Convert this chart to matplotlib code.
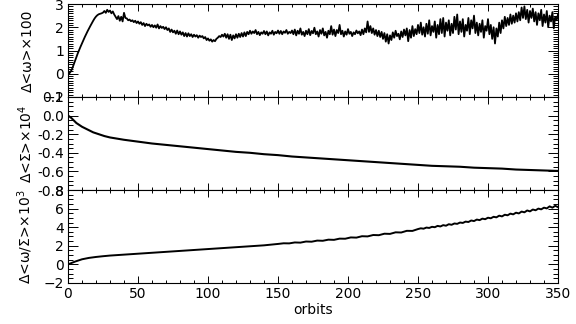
import numpy as np
import matplotlib
matplotlib.use("Agg")
import matplotlib.pyplot as plt
from matplotlib.ticker import MultipleLocator, FormatStrFormatter

# ---- data ----
top_vals = [
    0.00, 0.02, 0.10, 0.22, 0.38, 0.55, 0.72, 0.88, 1.03, 1.17,
    1.31, 1.45, 1.58, 1.71, 1.83, 1.95, 2.06, 2.17, 2.28, 2.38,
    2.46, 2.52, 2.56, 2.58, 2.60, 2.63, 2.70, 2.62, 2.75, 2.66,
    2.72, 2.60, 2.68, 2.55, 2.45, 2.35, 2.48, 2.28, 2.45, 2.25,
    2.62, 2.40, 2.38, 2.30, 2.33, 2.26, 2.30, 2.22, 2.28, 2.18,
    2.25, 2.15, 2.22, 2.10, 2.18, 2.05, 2.15, 2.08, 2.12, 2.02,
    2.10, 2.00, 2.08, 1.98, 2.12, 1.95, 2.05, 1.97, 2.02, 1.92,
    2.00, 1.88, 1.95, 1.80, 1.90, 1.78, 1.85, 1.72, 1.86, 1.70,
    1.82, 1.68, 1.78, 1.62, 1.75, 1.60, 1.74, 1.62, 1.70, 1.58,
    1.68, 1.60, 1.66, 1.55, 1.64, 1.58, 1.62, 1.52, 1.58, 1.45,
    1.52, 1.42, 1.48, 1.38, 1.45, 1.40, 1.50, 1.55, 1.62, 1.58,
    1.68, 1.60, 1.72, 1.55, 1.70, 1.50, 1.68, 1.45, 1.65, 1.52,
    1.70, 1.55, 1.72, 1.58, 1.75, 1.60, 1.78, 1.62, 1.80, 1.70,
    1.85, 1.72, 1.82, 1.75, 1.88, 1.70, 1.80, 1.66, 1.78, 1.72,
    1.84, 1.70, 1.82, 1.65, 1.78, 1.72, 1.85, 1.68, 1.80, 1.74,
    1.86, 1.72, 1.84, 1.70, 1.82, 1.76, 1.88, 1.72, 1.80, 1.75,
    1.86, 1.70, 1.90, 1.65, 1.85, 1.72, 1.95, 1.68, 1.80, 1.62,
    1.85, 1.70, 1.92, 1.66, 1.84, 1.74, 1.98, 1.70, 1.82, 1.60,
    1.88, 1.72, 1.95, 1.65, 1.80, 1.55, 1.85, 1.70, 2.05, 1.68,
    1.90, 1.62, 1.88, 1.75, 2.10, 1.70, 1.85, 1.60, 1.82, 1.68,
    1.92, 1.72, 1.80, 1.62, 1.78, 1.70, 1.86, 1.74, 1.82, 1.66,
    1.90, 1.70, 1.95, 1.78, 2.25, 1.80, 2.05, 1.75, 1.95, 1.68,
    1.88, 1.62, 1.85, 1.58, 1.80, 1.50, 1.75, 1.38, 1.70, 1.30,
    1.65, 1.45, 1.78, 1.55, 1.85, 1.62, 1.72, 1.48, 1.82, 1.58,
    1.90, 1.65, 1.95, 1.40, 1.88, 1.55, 2.05, 1.62, 1.92, 1.70,
    2.10, 1.75, 2.20, 1.68, 2.00, 1.60, 2.15, 1.72, 2.30, 1.65,
    2.05, 1.80, 2.25, 1.55, 2.10, 1.70, 2.35, 1.75, 2.40, 1.60,
    2.20, 1.85, 2.30, 1.65, 2.15, 1.75, 2.45, 1.90, 2.55, 1.70,
    2.25, 1.80, 2.35, 1.60, 2.10, 1.85, 2.40, 1.70, 2.30, 1.95,
    2.50, 1.75, 2.20, 1.65, 2.15, 1.80, 2.30, 1.55, 2.05, 1.85,
    2.35, 1.70, 2.10, 1.50, 2.00, 1.30, 1.95, 1.60, 2.20, 1.75,
    2.30, 1.95, 2.45, 2.05, 2.40, 2.10, 2.55, 2.15, 2.50, 2.20,
    2.60, 2.25, 2.65, 2.30, 2.85, 2.40, 2.90, 2.35, 2.75, 2.20,
    2.70, 2.40, 2.80, 2.25, 2.65, 2.10, 2.60, 2.30, 2.75, 2.05,
    2.55, 2.20, 2.70, 2.00, 2.50, 2.25, 2.65, 1.95, 2.45, 2.30,
    2.55,
]

mid_orbits = [0, 2, 4, 6, 8, 10, 14, 18, 22, 26, 30, 40, 50, 60, 70, 80, 90,
              100, 110, 120, 130, 140, 150, 160, 170, 180, 190, 200, 210, 220,
              230, 240, 250, 260, 270, 280, 290, 300, 310, 320, 330, 340, 350]
mid_vals = [0.0, -0.02, -0.05, -0.08, -0.10, -0.12, -0.15, -0.18, -0.20, -0.22,
            -0.235, -0.26, -0.28, -0.30, -0.315, -0.33, -0.345, -0.36, -0.375,
            -0.39, -0.40, -0.415, -0.425, -0.44, -0.45, -0.46, -0.47, -0.48,
            -0.49, -0.50, -0.51, -0.52, -0.53, -0.54, -0.545, -0.55, -0.56,
            -0.565, -0.57, -0.58, -0.585, -0.59, -0.595]

bot_orbits = [0, 5, 10, 15, 20, 25, 30, 40, 50, 60, 70, 80, 90, 100, 110, 120,
              130, 140,
              150, 154, 158, 162, 166, 170, 174, 178, 182, 186, 190, 194, 198,
              202, 206, 210, 214, 218, 222, 226, 230, 234, 238, 242, 246,
              250, 252, 254, 256, 258, 260, 262, 264, 266, 268, 270, 272, 274,
              276, 278, 280, 282, 284, 286, 288, 290, 292, 294, 296, 298, 300,
              302, 304, 306, 308, 310, 312, 314, 316, 318, 320, 322, 324, 326,
              328, 330, 332, 334, 336, 338, 340, 342, 344, 346, 348, 350]
bot_vals = [0.0, 0.3, 0.55, 0.7, 0.8, 0.88, 0.95, 1.05, 1.15, 1.25, 1.35, 1.45,
            1.55, 1.65, 1.75, 1.85, 1.95, 2.05,
            2.20, 2.27, 2.26, 2.36, 2.34, 2.46, 2.44, 2.56, 2.54, 2.66, 2.64,
            2.77, 2.76, 2.90, 2.88, 3.03, 3.01, 3.16, 3.14, 3.30, 3.28, 3.45,
            3.43, 3.61, 3.60,
            3.80, 3.88, 3.84, 3.96, 3.92, 4.04, 4.00, 4.14, 4.08, 4.22, 4.16,
            4.32, 4.26, 4.40, 4.36, 4.50, 4.46, 4.60, 4.56, 4.72, 4.66, 4.82,
            4.76, 4.92, 4.86, 5.02, 4.96, 5.12, 5.06, 5.24, 5.16, 5.34, 5.28,
            5.46, 5.38, 5.56, 5.48, 5.68, 5.60, 5.80, 5.70, 5.90, 5.82, 6.00,
            5.92, 6.10, 6.02, 6.24, 6.10, 6.30, 6.16]

xticks = [0, 50, 100, 150, 200, 250, 300, 350]

# ---- figure ----
plt.rcParams['font.family'] = ['DejaVu Sans']
fig = plt.figure(figsize=(5.76, 3.24), dpi=100)
L, R, B, T = 68/576, 558/576, 1 - 283/324, 1 - 4/324
h = (T - B) / 3
axes = [fig.add_axes([L, B + (2 - i) * h, R - L, h]) for i in range(3)]

top_x = np.arange(len(top_vals))
axes[0].plot(top_x, top_vals, color='black', lw=1.3)
axes[1].plot(mid_orbits, mid_vals, color='black', lw=1.5)
axes[2].plot(bot_orbits, bot_vals, color='black', lw=1.4)

ylims = [(-1, 3), (-0.8, 0.2), (-2, 8)]
ymaj = [1, 0.2, 2]
ymin = [0.1, 0.05, 0.5]
ylabels = ['Δ<ω>×100', 'Δ<Σ>×10$^4$', 'Δ<ω/Σ>×10$^3$']

for i, ax in enumerate(axes):
    ax.set_xlim(0, 350)
    ax.set_ylim(*ylims[i])
    ax.xaxis.set_major_locator(MultipleLocator(50))
    ax.xaxis.set_minor_locator(MultipleLocator(10))
    ax.yaxis.set_major_locator(MultipleLocator(ymaj[i]))
    ax.yaxis.set_minor_locator(MultipleLocator(ymin[i]))
    ax.tick_params(axis='both', which='both', direction='in', top=True, right=True,
                   labelsize=10, width=0.7, pad=3)
    ax.tick_params(axis='y', which='major', length=7)
    ax.tick_params(axis='y', which='minor', length=3.5)
    ax.tick_params(axis='x', which='major', length=5)
    ax.tick_params(axis='x', which='minor', length=2.5)
    for s in ax.spines.values():
        s.set_linewidth(0.8)
    ax.set_ylabel(ylabels[i], fontsize=10)
    if i < 2:
        ax.tick_params(axis='x', labelbottom=False)
    ax.yaxis.set_label_coords(-0.068, 0.5)

axes[1].yaxis.set_major_formatter(FormatStrFormatter('%.1f'))
axes[2].set_xticks(xticks)
axes[2].set_xlabel('orbits', fontsize=10, labelpad=1)

fig.savefig('out.png', dpi=100)
